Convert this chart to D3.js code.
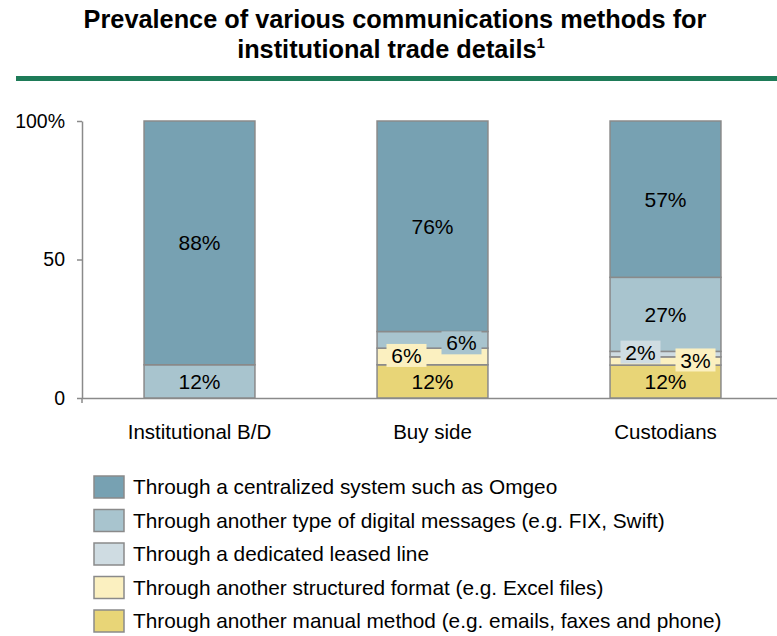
<!DOCTYPE html>
<html><head><meta charset="utf-8">
<script src="https://cdn.jsdelivr.net/npm/d3@7"></script>
<style>body{margin:0;background:#fff}svg{display:block;font-family:"Liberation Sans",Arial,sans-serif}</style>
</head><body><svg id="c" width="777" height="636"></svg>
<script>
const categories = ["Institutional B/D", "Buy side", "Custodians"];
const seriesNames = [
  "Through another manual method (e.g. emails, faxes and phone)",
  "Through another structured format (e.g. Excel files)",
  "Through a dedicated leased line",
  "Through another type of digital messages (e.g. FIX, Swift)",
  "Through a centralized system such as Omgeo"
];
const seriesKeys = ["manual", "structured", "leased", "digital", "centralized"];
const manual      = [0, 12, 12];
const structured  = [0, 6, 3];
const leased      = [0, 0, 2];
const digital     = [12, 6, 27];
const centralized = [88, 76, 57];
const yTicks = [0, 50, 100];
const yTickLabels = ["0", "50", "100%"];
const colors = ["#e8d577", "#fbf0c0", "#cfdce2", "#a8c4ce", "#77a1b2"];
// label placement: offsets (px) from segment center for boxed labels
const labelOffsets = {
  "Buy side|structured": [-26, -1],
  "Buy side|digital": [29, 3],
  "Custodians|leased": [-25, -2],
  "Custodians|structured": [30, -1]
};

const rows = categories.map((c, i) => ({
  cat: c, manual: manual[i], structured: structured[i], leased: leased[i],
  digital: digital[i], centralized: centralized[i]
}));
const stack = d3.stack().keys(seriesKeys).offset(d3.stackOffsetExpand);
const layers = stack(rows);

const svg = d3.select("#c");
// title
const title = svg.append("text").attr("text-anchor", "middle").attr("font-weight", "bold")
  .attr("font-size", 25.3).attr("fill", "#000");
title.append("tspan").attr("x", 395).attr("y", 28).text("Prevalence of various communications methods for");
const l2 = svg.append("text").attr("text-anchor", "middle").attr("font-weight", "bold")
  .attr("font-size", 25.3).attr("fill", "#000").attr("x", 391).attr("y", 58);
l2.append("tspan").text("institutional trade details");
l2.append("tspan").attr("font-size", 15).attr("dy", -10).text("1");
svg.append("rect").attr("x", 16).attr("y", 76).attr("width", 761).attr("height", 5).attr("fill", "#1e7b58");

const x = d3.scaleBand().domain(categories).range([83, 782]).paddingInner(0.524).paddingOuter(0.262);
const y = d3.scaleLinear().domain([0, 100]).range([398, 121]);

// axes
const yAxis = d3.axisLeft(y).tickValues(yTicks).tickFormat((d, i) => yTickLabels[i]).tickSize(5).tickSizeOuter(0);
const gy = svg.append("g").attr("transform", "translate(82,0)").call(yAxis);
gy.select(".domain").attr("stroke", "#8a8a8a").attr("stroke-width", 1.5);
gy.selectAll(".tick line").attr("stroke", "#8a8a8a").attr("stroke-width", 1.5);
gy.selectAll(".tick text").attr("font-size", 19.5).attr("fill", "#000").attr("x", -17).attr("font-family", "Liberation Sans, Arial, sans-serif");

svg.append("line").attr("x1", 82).attr("x2", 777).attr("y1", 398.5).attr("y2", 398.5)
  .attr("stroke", "#8a8a8a").attr("stroke-width", 1.5);
svg.append("line").attr("x1", 82).attr("x2", 82).attr("y1", 398).attr("y2", 403)
  .attr("stroke", "#8a8a8a").attr("stroke-width", 1.5);

const xAxis = d3.axisBottom(x).tickSize(0);
const gx = svg.append("g").attr("transform", "translate(0,398)").call(xAxis);
gx.select(".domain").remove();
gx.selectAll(".tick text").attr("font-size", 20.5).attr("fill", "#000").attr("dy", 0).attr("y", 41)
  .attr("font-family", "Liberation Sans, Arial, sans-serif");

// bars
layers.forEach((layer, li) => {
  svg.append("g").selectAll("rect").data(layer.filter(d => d[1] - d[0] > 0)).join("rect")
    .attr("x", d => x(d.data.cat))
    .attr("width", x.bandwidth())
    .attr("y", d => y(d[1] * 100))
    .attr("height", d => y(d[0] * 100) - y(d[1] * 100))
    .attr("fill", colors[li])
    .attr("stroke", "#8a8a8a").attr("stroke-width", 1.5);
});

// labels
const rawVals = {manual, structured, leased, digital, centralized};
layers.forEach((layer, li) => {
  const key = seriesKeys[li];
  layer.forEach((d, ci) => {
    const v = rawVals[key][ci];
    if (!v) return;
    const cat = d.data.cat;
    const cx = x(cat) + x.bandwidth() / 2;
    const cy = (y(d[0] * 100) + y(d[1] * 100)) / 2;
    const off = labelOffsets[cat + "|" + key];
    let lx = cx, ly = cy;
    if (off) {
      lx = cx + off[0]; ly = cy + off[1];
      svg.append("rect").attr("x", lx - 20).attr("y", ly - 11.5).attr("width", 40).attr("height", 23)
        .attr("fill", colors[li]);
    }
    svg.append("text").attr("x", lx).attr("y", ly).attr("dy", "0.36em")
      .attr("text-anchor", "middle").attr("font-size", 21).attr("fill", "#000").text(v + "%");
  });
});

// legend (top-down: centralized first)
const legendOrder = [4, 3, 2, 1, 0];
const lg = svg.append("g");
legendOrder.forEach((si, i) => {
  const yy = 476 + i * 33.5;
  lg.append("rect").attr("x", 94).attr("y", yy).attr("width", 30).attr("height", 22)
    .attr("fill", colors[si]).attr("stroke", "#8a8a8a").attr("stroke-width", 1.5);
  lg.append("text").attr("x", 133).attr("y", yy + 11).attr("dy", "0.36em")
    .attr("font-size", 20.8).attr("fill", "#000").text(seriesNames[si]);
});
</script></body></html>
